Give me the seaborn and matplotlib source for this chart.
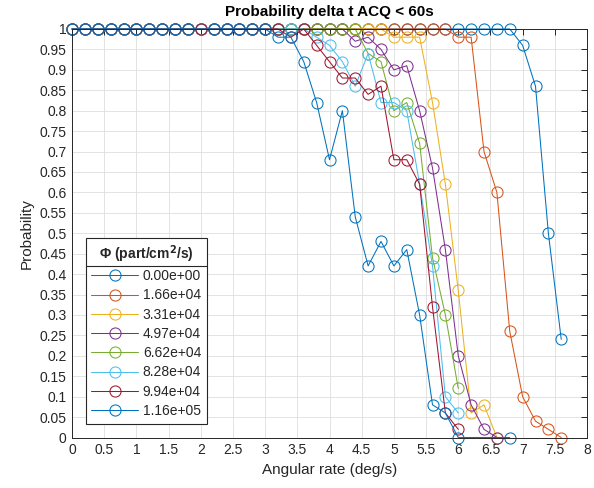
import numpy as np
import pandas as pd
import matplotlib
matplotlib.use('Agg')
import matplotlib.pyplot as plt
from matplotlib.lines import Line2D
from matplotlib.transforms import IdentityTransform
from matplotlib.ticker import MultipleLocator, FuncFormatter
import seaborn as sns

nan = np.nan

# angular rate grid (deg/s), one point every 0.2
rate = np.round(np.linspace(0, 7.6, 39), 1)

flux_labels = ['0.00e+00', '1.66e+04', '3.31e+04', '4.97e+04',
               '6.62e+04', '8.28e+04', '9.94e+04', '1.16e+05']

colors = ['#0072BD', '#D95319', '#EDB120', '#7E2F8E',
          '#77AC30', '#4DBEEE', '#A2142F', '#0072BD']

# probability, index i -> rate[i]
p_000 = [1, 1, 1, 1, 1, 1, 1, 1, 1, 1,
         1, 1, 1, 1, 1, 1, 1, 1, 1, 1,
         1, 1, 1, 1, 1, 1, 1, 1, 1, 1,
         1, 1, 1, 1, 1, 0.96, 0.86, 0.50, 0.24]
p_166 = [1, 1, 1, 1, 1, 1, 1, 1, 1, 1,
         1, 1, 1, 1, 1, 1, 1, 1, 1, 1,
         1, 1, 1, 1, 1, 1, 1, 1, 1, 1,
         0.98, 0.98, 0.70, 0.60, 0.26, 0.10, 0.04, 0.02, 0.0]
p_331 = [1, 1, 1, 1, 1, 1, 1, 1, 1, 1,
         1, 1, 1, 1, 1, 1, 1, 1, 1, 1,
         1, 1, 1, 1, 1, 0.98, 0.98, 0.98, 0.82, 0.62,
         0.36, 0.06, 0.08, 0.0, nan, nan, nan, nan, nan]
p_497 = [1, 1, 1, 1, 1, 1, 1, 1, 1, 1,
         1, 1, 1, 1, 1, 1, 1, 1, 1, 1,
         1, 1, 0.97, 0.98, 0.95, 0.90, 0.91, 0.80, 0.66, 0.46,
         0.20, 0.08, 0.02, 0.0, nan, nan, nan, nan, nan]
p_662 = [1, 1, 1, 1, 1, 1, 1, 1, 1, 1,
         1, 1, 1, 1, 1, 1, 1, 1, 1, 1,
         1, 1, 1, 0.94, 0.92, 0.80, 0.82, 0.72, 0.44, 0.30,
         0.12, nan, nan, nan, nan, nan, nan, nan, nan]
p_828 = [1, 1, 1, 1, 1, 1, 1, 1, 1, 1,
         1, 1, 1, 1, 1, 1, 1, 1, 1, 0.98,
         0.96, 0.92, 0.86, 0.94, 0.82, 0.82, 0.80, 0.62, 0.42, 0.10,
         0.06, nan, nan, nan, nan, nan, nan, nan, nan]
p_994 = [1, 1, 1, 1, 1, 1, 1, 1, 1, 1,
         1, 1, 1, 1, 1, 1, 1, 0.98, 1, 0.96,
         0.92, 0.88, 0.88, 0.84, 0.86, 0.68, 0.68, 0.62, 0.32, 0.06,
         0.02, nan, nan, nan, nan, nan, nan, nan, nan]
p_116 = [1, 1, 1, 1, 1, 1, 1, 1, 1, 1,
         nan, 1, 1, 1, 1, 1, 0.98, 0.98, 0.92, 0.82,
         0.68, 0.80, 0.54, 0.42, 0.48, 0.42, 0.46, 0.30, 0.08, 0.06,
         0.0, nan, nan, nan, 0.0, nan, nan, nan, nan]

series = [p_000, p_166, p_331, p_497, p_662, p_828, p_994, p_116]

df = pd.concat([pd.DataFrame({'rate': rate, 'prob': vals, 'flux': lab})
                for lab, vals in zip(flux_labels, series)], ignore_index=True)

sns.set_theme(style='whitegrid')
plt.rcParams['font.family'] = ['Liberation Sans', 'DejaVu Sans']

fig = plt.figure(figsize=(5.94, 4.88), dpi=100)
ax = fig.add_axes([72 / 594, 1 - 437.5 / 488, 515 / 594, 408.5 / 488])

sns.lineplot(data=df, x='rate', y='prob', hue='flux', palette=colors,
             marker='o', markersize=8, markerfacecolor='none',
             markeredgewidth=0.75, linewidth=0.75, legend=False,
             clip_on=False, ax=ax)
for line in ax.lines:
    line.set_markeredgecolor(line.get_color())

ax.set_xlim(0, 8)
ax.set_ylim(0, 1)
ax.xaxis.set_major_locator(MultipleLocator(0.5))
ax.yaxis.set_major_locator(MultipleLocator(0.05))
fmt = FuncFormatter(lambda v, pos: f'{v:g}')
ax.xaxis.set_major_formatter(fmt)
ax.yaxis.set_major_formatter(fmt)

ax.grid(True, color='#dedede', linewidth=0.6)
for sp in ax.spines.values():
    sp.set_color('#262626')
    sp.set_linewidth(0.7)
ax.tick_params(direction='in', top=True, right=True, length=4, width=0.7,
               color='#262626', labelsize=10, labelcolor='#262626', pad=4)

ax.set_title('Probability delta t ACQ < 60s', fontsize=11, fontweight='bold',
             pad=9, color='black')
ax.set_xlabel('Angular rate (deg/s)', fontsize=11, color='#262626')
ax.set_ylabel('Probability', fontsize=11, color='#262626')

handles = [Line2D([], [], color=c, marker='o', markerfacecolor='none',
                  markeredgecolor=c, markersize=8, markeredgewidth=0.75,
                  linewidth=0.75) for c in colors]
leg = ax.legend(handles, flux_labels, title='Φ (part/cm$^\\mathbf{2}$/s)',
                loc='lower left', fontsize=10,
                title_fontproperties={'weight': 'bold', 'size': 10},
                frameon=True, fancybox=False, framealpha=1, edgecolor='#262626',
                borderaxespad=1.0, handlelength=3.35, handletextpad=0.35,
                labelspacing=0.38, borderpad=0.4)
leg.get_frame().set_linewidth(0.8)
leg._legend_box.sep = 3

fig.canvas.draw()
fb = leg.get_frame().get_window_extent()
tb = leg.get_title().get_window_extent()
ysep = tb.y0 - 1.5
fig.add_artist(Line2D([fb.x0, fb.x1], [ysep, ysep], transform=IdentityTransform(),
                      color='#262626', linewidth=0.8))

fig.savefig('out.png', dpi=100)
